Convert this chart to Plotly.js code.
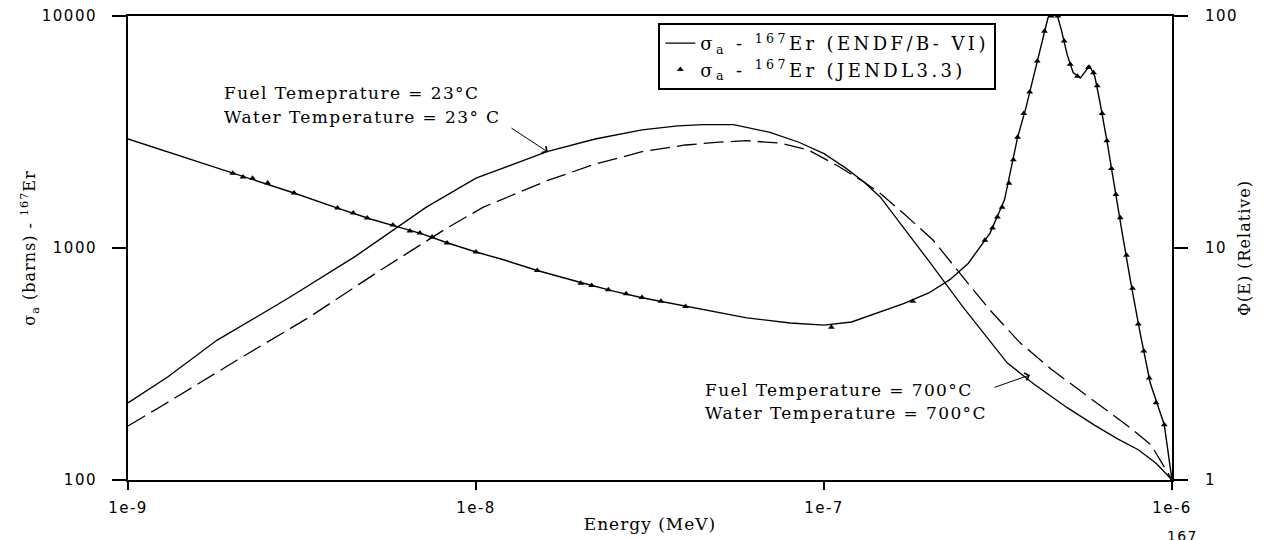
<!DOCTYPE html>
<html>
<head>
<meta charset="utf-8">
<script src="https://cdn.plot.ly/plotly-3.0.1.min.js"></script>
<style>
html,body{margin:0;padding:0;background:#fff;}
#chart{width:1271px;height:540px;}
.legendtext{letter-spacing:3.4px;}
.annotation-text{letter-spacing:1.4px;}
.xtick text,.ytick text,.y2tick text{letter-spacing:1.5px;}
.xtitle,.ytitle,.y2title{letter-spacing:1px;}
</style>
</head>
<body>
<div id="chart"></div>
<script>
// ENDF/B-VI absorption cross section of Er-167 (barns) vs energy (MeV)
const energyENDF = [1e-9, 2e-9, 3e-9, 4e-9, 5e-9, 6e-9, 7e-9, 8.3e-9, 1e-8, 1.2e-8, 1.5e-8, 2e-8, 2.5e-8, 3e-8, 4e-8, 5e-8, 6e-8, 8e-8, 1e-7, 1.2e-7, 1.45e-7, 1.7e-7, 2e-7, 2.3e-7, 2.6e-7, 3e-7, 3.3e-7, 3.5e-7, 3.6e-7, 3.8e-7, 4.0e-7, 4.2e-7, 4.4e-7, 4.5e-7, 4.65e-7, 4.8e-7, 5.0e-7, 5.2e-7, 5.45e-7, 5.65e-7, 5.8e-7, 6.0e-7, 6.2e-7, 6.5e-7, 6.8e-7, 7.2e-7, 7.6e-7, 8.1e-7, 8.66e-7, 9.5e-7, 1e-6];
const sigmaENDF = [2950, 2100, 1726, 1486, 1330, 1230, 1150, 1051, 961, 890, 800, 710, 650, 610, 560, 525, 500, 475, 465, 480, 530, 577, 640, 730, 860, 1160, 1610, 2450, 3000, 4000, 5500, 7500, 9800, 10600, 10400, 8800, 6800, 5700, 5400, 5800, 6100, 5500, 4300, 2900, 1900, 1150, 720, 430, 262, 173, 100];

// JENDL3.3 points
const energyJENDL = [2.0e-9, 2.14e-9, 2.28e-9, 2.52e-9, 3.0e-9, 4.0e-9, 4.44e-9, 4.87e-9, 5.77e-9, 6.46e-9, 6.9e-9, 7.48e-9, 8.26e-9, 1.0e-8, 1.5e-8, 2.0e-8, 2.15e-8, 2.4e-8, 2.7e-8, 3.0e-8, 3.4e-8, 4.0e-8, 1.05e-7, 1.8e-7, 2.9e-7, 3.05e-7, 3.15e-7, 3.25e-7, 3.4e-7, 3.5e-7, 3.6e-7, 3.75e-7, 3.9e-7, 4.1e-7, 4.3e-7, 4.5e-7, 4.7e-7, 4.9e-7, 5.1e-7, 5.35e-7, 5.75e-7, 5.95e-7, 6.1e-7, 6.3e-7, 6.5e-7, 6.7e-7, 6.9e-7, 7.1e-7, 7.4e-7, 7.7e-7, 8.0e-7, 8.3e-7, 8.6e-7, 9.0e-7, 9.5e-7, 1.0e-6];
const sigmaJENDL = [2100, 2025, 2000, 1905, 1726, 1486, 1415, 1346, 1256, 1183, 1161, 1115, 1051, 961, 800, 705, 690, 660, 635, 612, 590, 560, 455, 590, 1080, 1220, 1360, 1500, 1900, 2400, 3000, 3800, 4700, 6400, 8600, 10000, 10000, 7800, 6200, 5500, 6000, 5700, 5000, 3800, 2900, 2200, 1700, 1350, 930, 670, 470, 360, 275, 215, 173, 100];

// Relative flux, fuel/water 23 C
const energyFlux23 = [1e-9, 1.3e-9, 1.8e-9, 2.9e-9, 4.5e-9, 7.2e-9, 1e-8, 1.6e-8, 2.2e-8, 3e-8, 3.8e-8, 4.5e-8, 5.5e-8, 7e-8, 8.5e-8, 1e-7, 1.15e-7, 1.3e-7, 1.45e-7, 1.7e-7, 2e-7, 2.5e-7, 3e-7, 3.36e-7, 4e-7, 5e-7, 6e-7, 7e-7, 8e-7, 9e-7, 1e-6];
const flux23 = [2.15, 2.78, 4.0, 6.1, 9.2, 15, 20, 26, 29.5, 32.3, 33.6, 34, 34, 31.5, 28.5, 25.5, 22.2, 19.3, 16.6, 12.2, 8.8, 5.6, 3.97, 3.2, 2.6, 2.05, 1.72, 1.5, 1.35, 1.18, 1.0];

// Relative flux, fuel/water 700 C
const energyFlux700 = [1e-9, 1.24e-9, 2.06e-9, 3.33e-9, 5.3e-9, 8.26e-9, 1.05e-8, 1.6e-8, 2.2e-8, 3e-8, 4e-8, 5e-8, 6e-8, 7.5e-8, 9e-8, 1.1e-7, 1.3e-7, 1.45e-7, 1.7e-7, 2.06e-7, 2.6e-7, 3e-7, 3.66e-7, 4.5e-7, 5.5e-7, 6.5e-7, 7.5e-7, 8.7e-7, 1e-6];
const flux700 = [1.71, 2.07, 3.29, 5.05, 8.0, 12.2, 15, 19.5, 23, 26, 27.8, 28.6, 29, 28.3, 26.5, 22.5, 19.3, 17.2, 14, 10.8, 7.0, 5.4, 3.9, 3.0, 2.4, 2.0, 1.7, 1.42, 1.0];

const xTickVals = [1e-9, 1e-8, 1e-7, 1e-6];
const xTickText = ['1e-9', '1e-8', '1e-7', '1e-6'];
const yTickVals = [100, 1000, 10000];
const yTickText = ['100', '1000', '10000'];
const y2TickVals = [1, 10, 100];
const y2TickText = ['1', '10', '100'];

const serif = 'DejaVu Serif, Liberation Serif, serif';
const sans = 'DejaVu Sans, Liberation Sans, sans-serif';

const traces = [
  {x: energyENDF, y: sigmaENDF, mode: 'lines', name: 'σ<sub>a</sub> - <sup>167</sup>Er (ENDF/B- VI)',
   line: {color: 'black', width: 1.4}, yaxis: 'y'},
  {x: energyJENDL, y: sigmaJENDL, mode: 'markers', name: 'σ<sub>a</sub> - <sup>167</sup>Er (JENDL3.3)',
   marker: {color: 'black', size: 6, symbol: 'triangle-up'}, yaxis: 'y'},
  {x: energyFlux23, y: flux23, mode: 'lines', showlegend: false, name: '23 C',
   line: {color: 'black', width: 1.3}, yaxis: 'y2'},
  {x: energyFlux700, y: flux700, mode: 'lines', showlegend: false, name: '700 C',
   line: {color: 'black', width: 1.3, dash: '20px,7px'}, yaxis: 'y2'}
];

const layout = {
  width: 1271, height: 540,
  margin: {l: 128, r: 99, t: 16, b: 60},
  paper_bgcolor: 'white', plot_bgcolor: 'white',
  font: {family: sans, color: 'black'},
  xaxis: {
    type: 'log', range: [-9, -6], tickvals: xTickVals, ticktext: xTickText,
    ticks: 'outside', ticklen: 8, tickwidth: 2, tickcolor: 'black',
    showline: true, linewidth: 2, linecolor: 'black', mirror: true,
    showgrid: false, zeroline: false, ticklabelstandoff: 5,
    tickfont: {family: sans, size: 15, color: 'black'},
    title: {text: 'Energy (MeV)', font: {family: serif, size: 17, color: 'black'}, standoff: 2}
  },
  yaxis: {
    type: 'log', range: [2, 4], tickvals: yTickVals, ticktext: yTickText,
    ticks: 'outside', ticklen: 14, tickwidth: 2, tickcolor: 'black',
    showline: true, linewidth: 2, linecolor: 'black',
    showgrid: false, zeroline: false, ticklabelstandoff: 12,
    tickfont: {family: sans, size: 15, color: 'black'},
    title: {text: 'σ<sub>a</sub> (barns) - <sup>167</sup>Er', font: {family: serif, size: 16, color: 'black'}, standoff: 2}
  },
  yaxis2: {
    type: 'log', range: [0, 2], tickvals: y2TickVals, ticktext: y2TickText,
    overlaying: 'y', side: 'right',
    ticks: 'outside', ticklen: 14, tickwidth: 2, tickcolor: 'black',
    showline: true, linewidth: 2, linecolor: 'black',
    showgrid: false, zeroline: false, ticklabelstandoff: 14,
    tickfont: {family: sans, size: 15, color: 'black'},
    title: {text: 'Φ(E) (Relative)', font: {family: serif, size: 16, color: 'black'}, standoff: 2}
  },
  legend: {
    x: 0.508, y: 0.985, xanchor: 'left', yanchor: 'top',
    bordercolor: 'black', borderwidth: 2, bgcolor: 'white',
    font: {family: serif, size: 18, color: 'black'},
    tracegroupgap: 0
  },
  annotations: [
    {xref: 'paper', yref: 'paper', x: (222 - 128) / 1044, y: (480 - 93) / 464, xanchor: 'left', yanchor: 'middle',
     text: 'Fuel Temeprature = 23°C', showarrow: false, font: {family: serif, size: 17, color: 'black'}},
    {xref: 'paper', yref: 'paper', x: (222 - 128) / 1044, y: (480 - 117) / 464, xanchor: 'left', yanchor: 'middle',
     text: 'Water Temperature = 23° C', showarrow: false, font: {family: serif, size: 17, color: 'black'}},
    {xref: 'x', yref: 'y2', x: Math.log10(1.61e-8), y: Math.log10(25.9), ax: -38, ay: -25, text: '',
     showarrow: true, arrowhead: 4, arrowsize: 1.5, arrowwidth: 1, arrowcolor: 'black'},
    {xref: 'paper', yref: 'paper', x: (703 - 128) / 1044, y: (480 - 390) / 464, xanchor: 'left', yanchor: 'middle',
     text: 'Fuel Temperature = 700°C', showarrow: false, font: {family: serif, size: 17, color: 'black'}},
    {xref: 'paper', yref: 'paper', x: (703 - 128) / 1044, y: (480 - 413) / 464, xanchor: 'left', yanchor: 'middle',
     text: 'Water Temperature = 700°C', showarrow: false, font: {family: serif, size: 17, color: 'black'}},
    {xref: 'x', yref: 'y2', x: Math.log10(3.91e-7), y: 0.453, ax: -37, ay: 13, text: '',
     showarrow: true, arrowhead: 4, arrowsize: 1.5, arrowwidth: 1, arrowcolor: 'black'},
    {xref: 'paper', yref: 'paper', x: (1182 - 128) / 1044, y: (480 - 526) / 464, xanchor: 'center', yanchor: 'top',
     text: '167', showarrow: false, font: {family: sans, size: 14, color: 'black'}}
  ]
};

Plotly.newPlot('chart', traces, layout, {displayModeBar: false, responsive: false});
</script>
</body>
</html>
